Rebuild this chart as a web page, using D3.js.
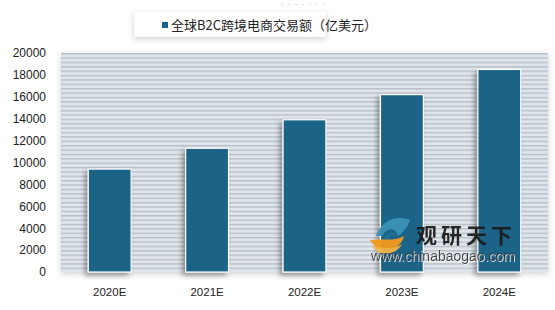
<!DOCTYPE html>
<html>
<head>
<meta charset="utf-8">
<script src="https://cdn.jsdelivr.net/npm/d3@7"></script>
<style>
body { margin: 0; background: #fff; }
svg { display: block; font-family: "Liberation Sans", "Noto Sans CJK SC", sans-serif; }
</style>
</head>
<body>
<svg id="chart" width="555" height="310"></svg>
<script>
// chart data
var years = ["2020E", "2021E", "2022E", "2023E", "2024E"];
var values = [9400, 11300, 13900, 16200, 18500];
var yTicks = [0, 2000, 4000, 6000, 8000, 10000, 12000, 14000, 16000, 18000, 20000];
var seriesName = "全球B2C跨境电商交易额（亿美元）";

var width = 555, height = 310;
var margin = {top: 53, right: 7, bottom: 38, left: 61};
var barColor = "#1b6488";

var svg = d3.select("#chart");
var defs = svg.append("defs");

// stripes for the plot background
var pat = defs.append("pattern")
    .attr("id", "stripes")
    .attr("patternUnits", "userSpaceOnUse")
    .attr("width", 8).attr("height", 4.38)
    .attr("y", margin.top);
pat.append("rect").attr("width", 8).attr("height", 4.38).attr("fill", "#dfe5eb");
pat.append("rect").attr("y", 0).attr("width", 8).attr("height", 1.4).attr("fill", "#b9c0c7");

var shadow = defs.append("filter").attr("id", "shadow")
    .attr("x", "-20%").attr("y", "-20%").attr("width", "140%").attr("height", "140%");
shadow.append("feDropShadow").attr("dx", -3).attr("dy", 3).attr("stdDeviation", 2.5)
    .attr("flood-color", "#000").attr("flood-opacity", 0.35);

var softShadow = defs.append("filter").attr("id", "soft")
    .attr("x", "-20%").attr("y", "-40%").attr("width", "140%").attr("height", "180%");
softShadow.append("feDropShadow").attr("dx", 0).attr("dy", 2).attr("stdDeviation", 3)
    .attr("flood-color", "#000").attr("flood-opacity", 0.18);

var textShadow = defs.append("filter").attr("id", "tshadow");
textShadow.append("feDropShadow").attr("dx", 1).attr("dy", 1).attr("stdDeviation", 0.6)
    .attr("flood-color", "#fff").attr("flood-opacity", 0.8);

var xScale = d3.scaleBand().domain(years)
    .range([margin.left, width - margin.right]).paddingInner(0.56).paddingOuter(0.28);
var yScale = d3.scaleLinear().domain([0, 20000])
    .range([height - margin.bottom, margin.top]);

// plot background
svg.append("rect")
    .attr("x", margin.left).attr("y", yScale(20000))
    .attr("width", width - margin.right - margin.left)
    .attr("height", yScale(0) - yScale(20000))
    .attr("fill", "url(#stripes)")
    .attr("filter", "url(#soft)");

// bars
svg.selectAll(".bar").data(values).enter().append("rect")
    .attr("class", "bar")
    .attr("x", function(d, i){ return xScale(years[i]); })
    .attr("y", function(d){ return yScale(d); })
    .attr("width", xScale.bandwidth())
    .attr("height", function(d){ return yScale(0) - yScale(d); })
    .attr("fill", barColor)
    .attr("stroke", "#fff")
    .attr("stroke-width", 1.2)
    .attr("filter", "url(#shadow)");

// y axis
var yAxis = d3.axisLeft(yScale).tickValues(yTicks).tickSize(0).tickPadding(15)
    .tickFormat(d3.format("d"));
var yG = svg.append("g").attr("transform", "translate(" + margin.left + ",0)").call(yAxis);
yG.select(".domain").remove();
yG.selectAll("text").attr("font-size", 12).attr("fill", "#222")
    .attr("font-family", "Liberation Sans, sans-serif");

// x axis
var xAxis = d3.axisBottom(xScale).tickSize(0).tickPadding(16);
var xG = svg.append("g").attr("transform", "translate(0," + yScale(0) + ")").call(xAxis);
xG.select(".domain").remove();
xG.selectAll("text").attr("font-size", 11.5).attr("fill", "#222")
    .attr("font-family", "Liberation Sans, sans-serif");

// legend
svg.append("rect")
    .attr("x", 134).attr("y", 12).attr("width", 192).attr("height", 25)
    .attr("fill", "#fff").attr("filter", "url(#soft)");
svg.append("rect")
    .attr("x", 162).attr("y", 22).attr("width", 6).attr("height", 6)
    .attr("fill", barColor);
svg.append("text")
    .attr("x", 171).attr("y", 30)
    .attr("font-size", 13).attr("fill", "#222")
    .attr("font-family", "Noto Sans CJK SC, sans-serif")
    .text(seriesName);

// faint dotted mark at the top
svg.append("text")
    .attr("x", 281).attr("y", 7)
    .attr("font-size", 8).attr("fill", "#999")
    .attr("letter-spacing", 1)
    .text("· · · · · · ·");

// watermark
var wm = svg.append("g").attr("opacity", 0.95);
wm.append("path")
    .attr("d", "M376,236 C380,222 396,214 410,220 C408,226 404,232 398,236 C396,228 388,226 382,236 Z")
    .attr("fill", "#3a93b8");
wm.append("path")
    .attr("d", "M384,238 C388,230 396,230 398,236 C394,234 390,236 388,240 Z")
    .attr("fill", "#1f6f96");
wm.append("path")
    .attr("d", "M370,240 C380,238 394,242 404,236 C402,244 396,250 384,250 C378,250 374,246 370,240 Z")
    .attr("fill", "#f29a1c");
wm.append("path")
    .attr("d", "M372,246 C382,248 394,250 402,244 C398,252 388,256 378,252 Z")
    .attr("fill", "#f6b545");
wm.append("text")
    .attr("x", 416).attr("y", 243)
    .attr("font-size", 21).attr("font-weight", "bold").attr("fill", "#1c1c1c")
    .attr("letter-spacing", 4)
    .attr("font-family", "Noto Sans CJK SC, sans-serif")
    .text("观研天下");
wm.append("text")
    .attr("x", 371).attr("y", 261)
    .attr("font-size", 14).attr("fill", "#3a3a3a")
    .attr("font-family", "Liberation Sans, sans-serif")
    .attr("filter", "url(#tshadow)")
    .text("www.chinabaogao.com");
</script>
</body>
</html>
